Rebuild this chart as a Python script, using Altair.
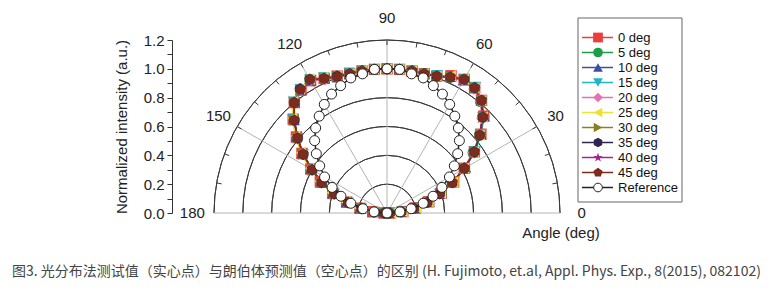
import math
import altair as alt
import pandas as pd

# ---------------- data ----------------
angles = list(range(0, 181, 5))

series_names = ["0 deg", "5 deg", "10 deg", "15 deg", "20 deg",
                "25 deg", "30 deg", "35 deg", "40 deg", "45 deg"]

s0 = [0.02, 0.11, 0.20, 0.30, 0.40, 0.51, 0.62, 0.74, 0.85, 0.95, 1.02, 1.06, 1.07, 1.05, 1.01, 1.00, 1.00, 1.00, 1.00,
      1.00, 1.00, 1.00, 1.01, 1.03, 1.06, 1.04, 1.00, 0.92, 0.82, 0.72, 0.61, 0.51, 0.40, 0.29, 0.19, 0.10, 0.02]
s5 = [0.02, 0.10, 0.20, 0.29, 0.40, 0.50, 0.62, 0.73, 0.84, 0.94, 1.01, 1.06, 1.07, 1.04, 1.01, 1.00, 1.00, 1.00, 1.00,
      1.00, 1.00, 1.00, 1.01, 1.03, 1.07, 1.05, 1.00, 0.91, 0.81, 0.71, 0.60, 0.50, 0.39, 0.28, 0.18, 0.09, 0.02]
s10 = [0.02, 0.10, 0.19, 0.30, 0.39, 0.51, 0.63, 0.74, 0.85, 0.95, 1.02, 1.06, 1.06, 1.04, 1.01, 1.00, 1.00, 1.00, 1.00,
       1.00, 1.00, 1.00, 1.00, 1.03, 1.06, 1.04, 1.00, 0.91, 0.82, 0.72, 0.61, 0.50, 0.40, 0.29, 0.19, 0.09, 0.02]
s15 = [0.02, 0.11, 0.19, 0.29, 0.39, 0.50, 0.62, 0.75, 0.85, 0.94, 1.02, 1.07, 1.07, 1.04, 1.02, 1.00, 1.00, 1.00, 1.00,
       1.00, 1.00, 1.01, 1.01, 1.04, 1.07, 1.05, 1.01, 0.92, 0.81, 0.71, 0.60, 0.49, 0.39, 0.28, 0.18, 0.09, 0.02]
s20 = [0.02, 0.10, 0.19, 0.29, 0.39, 0.50, 0.61, 0.73, 0.84, 0.93, 1.01, 1.05, 1.06, 1.04, 1.01, 1.00, 1.00, 1.00, 1.00,
       1.00, 1.00, 1.00, 1.00, 1.02, 1.06, 1.04, 1.00, 0.91, 0.81, 0.71, 0.60, 0.50, 0.39, 0.28, 0.18, 0.09, 0.02]
s25 = [0.03, 0.11, 0.21, 0.30, 0.40, 0.51, 0.62, 0.74, 0.84, 0.94, 1.02, 1.06, 1.07, 1.05, 1.01, 1.00, 1.00, 1.00, 1.00,
       1.00, 1.00, 1.00, 1.01, 1.04, 1.07, 1.05, 1.01, 0.93, 0.83, 0.73, 0.62, 0.52, 0.41, 0.30, 0.20, 0.10, 0.03]
s30 = [0.02, 0.10, 0.19, 0.29, 0.39, 0.50, 0.62, 0.74, 0.84, 0.94, 1.02, 1.06, 1.07, 1.04, 1.01, 1.00, 1.00, 1.00, 1.00,
       1.00, 1.00, 1.00, 1.01, 1.03, 1.07, 1.04, 1.00, 0.91, 0.81, 0.71, 0.60, 0.50, 0.39, 0.28, 0.18, 0.09, 0.02]
s35 = [0.02, 0.10, 0.19, 0.29, 0.39, 0.50, 0.62, 0.74, 0.84, 0.94, 1.02, 1.06, 1.07, 1.04, 1.01, 1.00, 1.00, 1.00, 1.00,
       1.00, 1.00, 1.00, 1.01, 1.03, 1.07, 1.05, 1.00, 0.91, 0.81, 0.71, 0.60, 0.50, 0.39, 0.28, 0.18, 0.09, 0.02]
s40 = [0.02, 0.10, 0.19, 0.29, 0.39, 0.50, 0.62, 0.74, 0.84, 0.94, 1.02, 1.06, 1.07, 1.04, 1.01, 1.00, 1.00, 1.00, 1.00,
       1.00, 1.00, 1.00, 1.01, 1.03, 1.07, 1.04, 1.00, 0.91, 0.81, 0.71, 0.60, 0.50, 0.39, 0.28, 0.18, 0.09, 0.02]
s45 = [0.02, 0.10, 0.19, 0.29, 0.39, 0.50, 0.62, 0.74, 0.84, 0.94, 1.02, 1.06, 1.07, 1.04, 1.01, 1.00, 1.00, 1.00, 1.00,
       1.00, 1.00, 1.00, 1.005, 1.03, 1.07, 1.045, 1.00, 0.91, 0.81, 0.71, 0.60, 0.50, 0.39, 0.28, 0.18, 0.09, 0.02]
measured_values = [s0, s5, s10, s15, s20, s25, s30, s35, s40, s45]

reference = [0.00, 0.09, 0.17, 0.26, 0.34, 0.42, 0.50, 0.57, 0.64, 0.71, 0.77, 0.82, 0.87, 0.91, 0.94, 0.97, 0.98, 1.00, 1.00,
             1.00, 0.98, 0.97, 0.94, 0.91, 0.87, 0.82, 0.77, 0.71, 0.64, 0.57, 0.50, 0.42, 0.34, 0.26, 0.17, 0.09, 0.00]
ref_name = "Reference"

ring_radii = [0.2, 0.4, 0.6, 0.8, 1.0, 1.2]
spoke_angles = [0, 30, 60, 90, 120, 150, 180]
tick_angles = list(range(10, 180, 10))
label_angles = [0, 30, 60, 90, 120, 150, 180]
label_texts = ["0", "30", "60", "90", "120", "150", "180"]
y_ticks = [0.0, 0.1, 0.2, 0.3, 0.4, 0.5, 0.6, 0.7, 0.8, 0.9, 1.0, 1.1, 1.2]

x_title = "Angle (deg)"
y_title = "Normalized intensity (a.u.)"
caption = "图3. 光分布法测试值（实心点）与朗伯体预测值（空心点）的区别 (H. Fujimoto, et.al, Appl. Phys. Exp., 8(2015), 082102)"

colors = ["#ee3b3b", "#1a9e4a", "#3c4fa0", "#1fb5c5", "#e272b8",
          "#f0e12c", "#8a8020", "#2e2650", "#a0288c", "#7d2a1f"]
ref_color = "#222222"

PENTAGON = "M0,-1L0.951,-0.309L0.588,0.809L-0.588,0.809L-0.951,-0.309Z"
HEXAGON = "M0,-1L0.866,-0.5L0.866,0.5L0,1L-0.866,0.5L-0.866,-0.5Z"
STAR = ("M0,-1L0.235,-0.324L0.951,-0.309L0.380,0.124L0.588,0.809L0,0.4"
        "L-0.588,0.809L-0.380,0.124L-0.951,-0.309L-0.235,-0.324Z")
shapes = ["square", "circle", "triangle-up", "triangle-down", "diamond",
          "triangle-left", "triangle-right", HEXAGON, STAR, PENTAGON]

# ---------------- tables ----------------
rows = []
for name, vals in zip(series_names, measured_values):
    for a, r in zip(angles, vals):
        rows.append({"series": name, "angle": a, "r": r})
meas_df = pd.DataFrame(rows)
ref_df = pd.DataFrame({"angle": angles, "r": reference})
rings_df = pd.DataFrame({"r": ring_radii})
spokes_df = pd.DataFrame({"angle": spoke_angles})
ticks_df = pd.DataFrame({"angle": tick_angles})
labels_df = pd.DataFrame({"angle": label_angles, "label": label_texts})
legend_df = pd.DataFrame({"series": series_names + [ref_name]})
one_df = pd.DataFrame({"x_title": [x_title], "caption": [caption]})

# ---------------- scales / axes ----------------
W, H = 346, 173
FONT = "Liberation Sans"
xs = alt.Scale(domain=[-1.2, 1.2], nice=False, zero=False)
ys = alt.Scale(domain=[0, 1.2], nice=False, zero=False)
y_axis = alt.Axis(
    values=y_ticks,
    labelExpr="round(datum.value * 10) % 2 == 0 ? format(datum.value, '.1f') : ''",
    labelOverlap=False, labelFlush=False,
    offset=42, tickSize=5, tickColor="#333", domainColor="#333",
    labelFont=FONT, labelFontSize=15, labelColor="#222", labelPadding=3,
    title=y_title, titleFont=FONT, titleFontSize=15, titleFontWeight="normal",
    titleColor="#222", titlePadding=14, grid=False,
)
color_scale = alt.Scale(domain=series_names + [ref_name], range=colors + [ref_color])
shape_scale = alt.Scale(domain=series_names, range=shapes)

PX = "datum.r * cos(datum.angle * PI / 180)"
PY = "datum.r * sin(datum.angle * PI / 180)"


def X(f):
    return alt.X(f, type="quantitative", scale=xs, axis=None)


def Y(f):
    return alt.Y(f, type="quantitative", scale=ys, axis=y_axis)


# ---------------- grid ----------------
rings = alt.Chart(rings_df).transform_calculate(cx="0", cy="0").mark_arc(
    fillOpacity=0, stroke="#3a3a3a", strokeWidth=1,
    theta=3 * math.pi / 2, theta2=5 * math.pi / 2,
).encode(
    x=X("cx"), y=Y("cy"),
    radius=alt.Radius("r:Q", scale=alt.Scale(type="linear", domain=[0, 1.2], range=[0, H], zero=True)),
    radius2=alt.Radius2("r:Q"),
)

spokes = alt.Chart(spokes_df).transform_calculate(
    x0="0", y0="0",
    x1="1.2 * cos(datum.angle * PI / 180)", y1="1.2 * sin(datum.angle * PI / 180)",
).mark_rule(color="#b4b4b4", strokeWidth=1).encode(
    x=X("x0"), y=Y("y0"), x2="x1:Q", y2="y1:Q"
)

outer_ticks = alt.Chart(ticks_df).transform_calculate(
    x0="1.165 * cos(datum.angle * PI / 180)", y0="1.165 * sin(datum.angle * PI / 180)",
    x1="1.2 * cos(datum.angle * PI / 180)", y1="1.2 * sin(datum.angle * PI / 180)",
).mark_rule(color="#3a3a3a", strokeWidth=1).encode(
    x=X("x0"), y=Y("y0"), x2="x1:Q", y2="y1:Q"
)

angle_labels = alt.Chart(labels_df).transform_calculate(
    lx="1.35 * cos(datum.angle * PI / 180)", ly="1.35 * sin(datum.angle * PI / 180)",
).mark_text(font=FONT, fontSize=15, color="#222", align="center", baseline="middle").encode(
    x=X("lx"), y=Y("ly"), text="label:N"
)

# ---------------- data marks ----------------
meas_lines = alt.Chart(meas_df).transform_calculate(px=PX, py=PY).mark_line(strokeWidth=1.5).encode(
    x=X("px"), y=Y("py"),
    color=alt.Color("series:N", scale=color_scale, legend=None),
    order=alt.Order("angle:Q"),
)
meas_points = alt.Chart(meas_df).transform_calculate(px=PX, py=PY).mark_point(
    filled=True, opacity=1, size=130
).encode(
    x=X("px"), y=Y("py"),
    color=alt.Color("series:N", scale=color_scale, legend=None),
    shape=alt.Shape("series:N", scale=shape_scale, legend=None),
)
ref_line = alt.Chart(ref_df).transform_calculate(px=PX, py=PY).mark_line(
    color=ref_color, strokeWidth=1.5
).encode(x=X("px"), y=Y("py"), order=alt.Order("angle:Q"))
ref_points = alt.Chart(ref_df).transform_calculate(px=PX, py=PY).mark_point(
    shape="circle", filled=True, fill="white", stroke=ref_color, strokeWidth=1, opacity=1, size=100
).encode(x=X("px"), y=Y("py"))

x_label = alt.Chart(one_df).mark_text(font=FONT, fontSize=15, color="#222", align="center",
                                       baseline="middle").encode(
    x=alt.value(347), y=alt.value(193), text="x_title:N")
cap = alt.Chart(one_df).mark_text(font="Noto Sans CJK SC", fontSize=14, color="#444", align="left",
                                  baseline="middle").encode(
    x=alt.value(-202), y=alt.value(232), text="caption:N")

main = alt.layer(rings, spokes, outer_ticks, angle_labels, meas_lines, meas_points,
                 ref_line, ref_points, x_label, cap)

# ---------------- legend ----------------
leg_y = alt.Y("series:N", scale=alt.Scale(domain=series_names + [ref_name], range=[-10, 155], padding=0),
              axis=None)
leg_box = alt.Chart(one_df).mark_rect(fill="white", stroke="#666", strokeWidth=1).encode(
    x=alt.value(364), x2=alt.value(468), y=alt.value(-22), y2=alt.value(162))
leg_rules = alt.Chart(legend_df).mark_rule(strokeWidth=1.5).encode(
    x=alt.value(368), x2=alt.value(399), y=leg_y,
    color=alt.Color("series:N", scale=color_scale, legend=None))
leg_pts = alt.Chart(legend_df).transform_filter(f"datum.series != '{ref_name}'").mark_point(
    filled=True, opacity=1, size=95).encode(
    x=alt.value(384), y=leg_y,
    color=alt.Color("series:N", scale=color_scale, legend=None),
    shape=alt.Shape("series:N", scale=shape_scale, legend=None))
leg_ref = alt.Chart(legend_df).transform_filter(f"datum.series == '{ref_name}'").mark_point(
    shape="circle", filled=True, fill="white", stroke=ref_color, strokeWidth=1, opacity=1, size=75).encode(
    x=alt.value(384), y=leg_y)
leg_txt = alt.Chart(legend_df).mark_text(font=FONT, fontSize=13, color="#111", align="left",
                                         baseline="middle").encode(
    x=alt.value(404), y=leg_y, text="series:N")
legend = alt.layer(leg_box, leg_rules, leg_pts, leg_ref, leg_txt)

chart = alt.layer(main, legend).resolve_scale(y="independent").properties(
    width=W, height=H,
    padding={"left": 214, "top": 40, "right": 221, "bottom": 86},
    autosize=alt.AutoSizeParams(type="none"),
    background="white",
).configure_view(strokeWidth=0)

chart.save("out.html", embed_options={"renderer": "svg", "actions": False})
